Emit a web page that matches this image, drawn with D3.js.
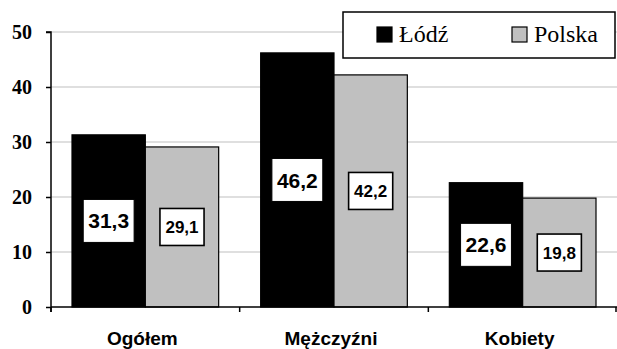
<!DOCTYPE html>
<html><head><meta charset="utf-8">
<script src="https://cdn.jsdelivr.net/npm/d3@7"></script>
<style>body{margin:0;background:#fff}</style>
</head><body>
<svg id="c" width="617" height="349"></svg>
<script>
const categories = ["Ogółem", "Mężczyźni", "Kobiety"];
const seriesNames = ["Łódź", "Polska"];
const lodz = [31.3, 46.2, 22.6];
const polska = [29.1, 42.2, 19.8];
const yTicks = [0, 10, 20, 30, 40, 50];
const labelsLodz = ["31,3", "46,2", "22,6"];
const labelsPolska = ["29,1", "42,2", "19,8"];

const colors = {"Łódź": "#000000", "Polska": "#c0c0c0"};
const svg = d3.select("#c");
const pLeft = 51, pRight = 617, pTop = 32, pBottom = 307;

const y = d3.scaleLinear().domain([0, 50]).range([pBottom, pTop]);
const x0 = d3.scaleBand().domain(categories).range([pLeft, pRight]).padding(0);
const x1 = d3.scaleBand().domain(seriesNames).range([21, x0.bandwidth() - 21]).padding(0);

// gridlines
svg.append("g").selectAll("line").data(yTicks.filter(d => d > 0)).join("line")
  .attr("x1", pLeft).attr("x2", pRight)
  .attr("y1", d => y(d)).attr("y2", d => y(d))
  .attr("stroke", "#c0c0c0").attr("stroke-width", 1.2);

const data = categories.map((c, i) => ({cat: c, vals: [
  {s: "Łódź", v: lodz[i], lab: labelsLodz[i]},
  {s: "Polska", v: polska[i], lab: labelsPolska[i]}]}));

const groups = svg.append("g").selectAll("g").data(data).join("g")
  .attr("transform", d => `translate(${x0(d.cat)},0)`);
groups.selectAll("rect").data(d => d.vals).join("rect")
  .attr("x", d => x1(d.s)).attr("width", x1.bandwidth())
  .attr("y", d => y(d.v)).attr("height", d => y(0) - y(d.v))
  .attr("fill", d => colors[d.s]).attr("stroke", "#000").attr("stroke-width", 1.2);

// value labels
groups.each(function(d) {
  const g = d3.select(this);
  d.vals.forEach(e => {
    const big = e.s === "Łódź";
    const fs = big ? 21 : 17;
    const cx = x1(e.s) + x1.bandwidth() / 2;
    const cy = (y(e.v) + y(0)) / 2;
    const t = g.append("text").text(e.lab)
      .attr("x", cx).attr("y", cy).attr("text-anchor", "middle").attr("dy", "0.36em")
      .attr("font-family", "Liberation Sans, Arial, sans-serif").attr("font-weight", "bold")
      .attr("font-size", fs).attr("fill", "#000");
    const w = t.node().getComputedTextLength();
    const bw = w + (big ? 10 : 11), bh = big ? 43 : 37;
    g.insert("rect", "text").attr("x", cx - bw / 2).attr("y", cy - bh / 2)
      .attr("width", bw).attr("height", bh).attr("fill", "#fff")
      .attr("stroke", "#000").attr("stroke-width", big ? 1 : 1.6);
    t.raise();
  });
});

// axes
const ya = svg.append("g").attr("transform", `translate(${pLeft},0)`)
  .call(d3.axisLeft(y).tickValues(yTicks).tickSize(5).tickPadding(14).tickFormat(d3.format("d")));
ya.select(".domain").attr("stroke", "#000").attr("stroke-width", 1.5).attr("d", `M-5,${pTop}H0V${pBottom + 5}`);
ya.selectAll(".tick line").attr("stroke", "#000").attr("stroke-width", 1.5);
ya.selectAll("text").attr("font-family", "Liberation Serif, Times New Roman, serif")
  .attr("font-weight", "bold").attr("font-size", 20).attr("fill", "#000");

const xa = svg.append("g").attr("transform", `translate(0,${pBottom})`);
xa.append("line").attr("x1", pLeft).attr("x2", pRight).attr("y1", 0).attr("y2", 0)
  .attr("stroke", "#000").attr("stroke-width", 1.5);
const bounds = categories.map(c => x0(c)).concat([x0(categories[categories.length - 1]) + x0.bandwidth()]);
xa.selectAll("line.t").data(bounds).join("line").attr("class", "t")
  .attr("x1", d => Math.min(d, pRight - 1)).attr("x2", d => Math.min(d, pRight - 1))
  .attr("y1", 0).attr("y2", 5).attr("stroke", "#000").attr("stroke-width", 1.5);
xa.selectAll("text").data(categories).join("text")
  .attr("x", d => x0(d) + x0.bandwidth() / 2 - 3).attr("y", 38)
  .attr("text-anchor", "middle").text(d => d)
  .attr("font-family", "Liberation Sans, Arial, sans-serif").attr("font-weight", "bold")
  .attr("font-size", 19).attr("fill", "#000");

// legend
const lg = svg.append("g");
lg.append("rect").attr("x", 343).attr("y", 12).attr("width", 272).attr("height", 46)
  .attr("fill", "#fff").attr("stroke", "#000").attr("stroke-width", 1.5);
const lx = [377, 512];
seriesNames.forEach((s, i) => {
  lg.append("rect").attr("x", lx[i]).attr("y", 27).attr("width", 15).attr("height", 15)
    .attr("fill", colors[s]).attr("stroke", "#000").attr("stroke-width", 1.2);
  lg.append("text").attr("x", lx[i] + 22).attr("y", 42).text(s)
    .attr("font-family", "Liberation Serif, Times New Roman, serif")
    .attr("font-size", 24).attr("fill", "#000");
});
</script>
</body></html>
